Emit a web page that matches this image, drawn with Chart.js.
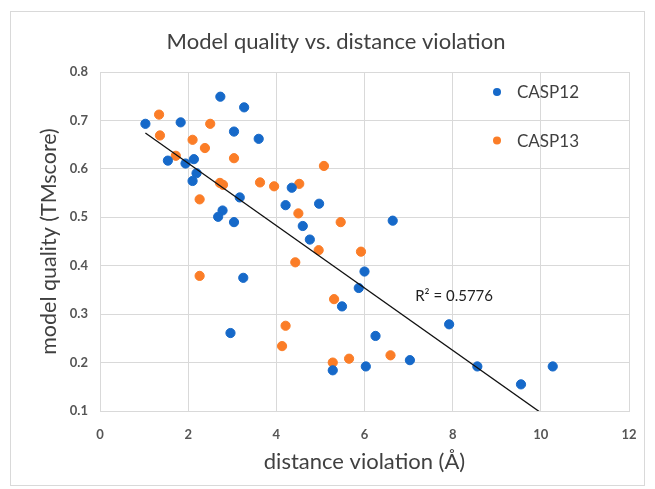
<!DOCTYPE html>
<html>
<head>
<meta charset="utf-8">
<script src="https://cdn.jsdelivr.net/npm/chart.js@4.4.1/dist/chart.umd.min.js"></script>
<style>
  html, body { margin: 0; padding: 0; background: #fff; }
</style>
</head>
<body>
<canvas id="chart1" width="655" height="489"></canvas>
<script>
// data
const casp12X = [1.03, 2.73, 3.27, 1.83, 3.04, 3.60, 1.54, 2.13, 1.94, 2.19, 2.10, 3.17, 2.78, 2.68, 3.04, 4.35, 4.21,
                 4.97, 4.60, 4.76, 6.64, 6.00, 3.25, 5.87, 5.49, 2.96, 6.25, 5.28, 6.03, 7.03, 7.92, 8.56, 9.55, 10.27];
const casp12Y = [0.693, 0.749, 0.727, 0.696, 0.677, 0.662, 0.617, 0.620, 0.611, 0.591, 0.575, 0.541, 0.514, 0.501, 0.490, 0.561, 0.525,
                 0.528, 0.482, 0.454, 0.493, 0.388, 0.375, 0.354, 0.316, 0.261, 0.255, 0.184, 0.192, 0.205, 0.279, 0.192, 0.155, 0.192];
const casp13X = [1.34, 1.36, 2.50, 2.10, 2.38, 1.72, 3.04, 2.72, 2.79, 2.26, 3.63, 3.95, 4.52, 4.50, 5.08, 5.46, 4.96,
                 5.92, 4.43, 2.26, 5.31, 4.21, 4.13, 5.28, 5.65, 6.59];
const casp13Y = [0.712, 0.669, 0.693, 0.660, 0.643, 0.627, 0.622, 0.571, 0.567, 0.537, 0.572, 0.564, 0.569, 0.508, 0.606, 0.490, 0.432,
                 0.429, 0.407, 0.379, 0.331, 0.276, 0.234, 0.200, 0.208, 0.215];
const seriesNames = ["CASP12", "CASP13"];
const chartTitle = "Model quality vs. distance violation";
const r2Label = "R² = 0.5776";

// linear trendline over both series
const allX = casp12X.concat(casp13X);
const allY = casp12Y.concat(casp13Y);
const n = allX.length;
const mx = allX.reduce((a, b) => a + b, 0) / n;
const my = allY.reduce((a, b) => a + b, 0) / n;
let sxy = 0, sxx = 0;
for (let i = 0; i < n; i++) {
    sxy += (allX[i] - mx) * (allY[i] - my);
    sxx += (allX[i] - mx) * (allX[i] - mx);
}
const slope = sxy / sxx;
const icpt = my - slope * mx;
const xMin = Math.min(...allX), xMax = Math.max(...allX);

const toPts = (xs, ys) => xs.map((x, i) => ({ x: x, y: ys[i] }));

const FONT = "Lato, 'Open Sans', sans-serif";

// outer frame + title (Excel puts the title a bit right of centre)
const framePlugin = {
    id: "frame",
    beforeDraw(chart) {
        const c = chart.ctx;
        c.save();
        c.fillStyle = "#fff";
        c.fillRect(0, 0, chart.width, chart.height);
        c.strokeStyle = "#d9d9d9";
        c.lineWidth = 1;
        c.strokeRect(10.5, 11.5, 634, 474);
        c.fillStyle = "#404040";
        c.font = "22px " + FONT;
        c.textAlign = "center";
        c.textBaseline = "middle";
        c.fillText(chartTitle, 336, 42);
        c.restore();
    }
};

// legend inside plot + R² label
const extrasPlugin = {
    id: "extras",
    afterDatasetsDraw(chart) {
        const c = chart.ctx;
        const a = chart.chartArea;
        c.save();
        [0, 1].forEach(i => {
            const ds = chart.data.datasets[i];
            const y = a.top + 20 + i * 48.5;
            c.fillStyle = ds.backgroundColor;
            c.beginPath();
            c.arc(a.right - 132, y, 4, 0, Math.PI * 2);
            c.fill();
            c.fillStyle = "#404040";
            c.font = "17px " + FONT;
            c.textBaseline = "middle";
            c.fillText(ds.label, a.right - 112, y + 1);
        });
        const sx = chart.scales.x, sy = chart.scales.y;
        c.fillStyle = "#222";
        c.font = "15px " + FONT;
        c.textBaseline = "middle";
        c.fillText(r2Label, sx.getPixelForValue(7.15), sy.getPixelForValue(0.337));
        c.restore();
    }
};

const ctx1 = document.getElementById("chart1").getContext("2d");

new Chart(ctx1, {
    type: "scatter",
    data: {
        datasets: [{
            label: seriesNames[0],
            data: toPts(casp12X, casp12Y),
            backgroundColor: "#1669c9",
            borderColor: "#1669c9",
            pointRadius: 4.6,
            pointHoverRadius: 4.6
        }, {
            label: seriesNames[1],
            data: toPts(casp13X, casp13Y),
            backgroundColor: "#fb7d27",
            borderColor: "#fb7d27",
            pointRadius: 4.6,
            pointHoverRadius: 4.6
        }, {
            label: "trend",
            data: [{ x: xMin, y: icpt + slope * xMin }, { x: xMax, y: icpt + slope * xMax }],
            showLine: true,
            borderColor: "#111",
            borderWidth: 1.3,
            pointRadius: 0,
            order: -1
        }]
    },
    options: {
        responsive: false,
        animation: false,
        layout: { padding: { left: 0, right: 26, top: 72, bottom: 0 } },
        plugins: {
            legend: { display: false },
            tooltip: { enabled: false },
            title: { display: false }
        },
        scales: {
            x: {
                type: "linear",
                min: 0, max: 12,
                ticks: { stepSize: 2, padding: 16, color: "#555", font: { family: FONT, size: 13, weight: "bold" } },
                grid: { color: "#d9d9d9", drawTicks: false },
                border: { color: "#d9d9d9" },
                title: {
                    display: true,
                    text: "distance violation (Å)",
                    color: "#404040",
                    font: { family: FONT, size: 22 },
                    padding: { top: 0, bottom: 14 }
                },
                afterFit(scale) { scale.height = 78; }
            },
            y: {
                min: 0.1, max: 0.8,
                ticks: {
                    stepSize: 0.1, padding: 12, color: "#555",
                    font: { family: FONT, size: 13, weight: "bold" },
                    callback: v => v.toFixed(1)
                },
                grid: { color: "#d9d9d9", drawTicks: false },
                border: { color: "#d9d9d9" },
                title: {
                    display: true,
                    text: "model quality (TMscore)",
                    color: "#404040",
                    font: { family: FONT, size: 21.5 },
                    padding: { top: 36, bottom: 0 }
                },
                afterFit(scale) { scale.width = 100; }
            }
        }
    },
    plugins: [framePlugin, extrasPlugin]
});
</script>
</body>
</html>
